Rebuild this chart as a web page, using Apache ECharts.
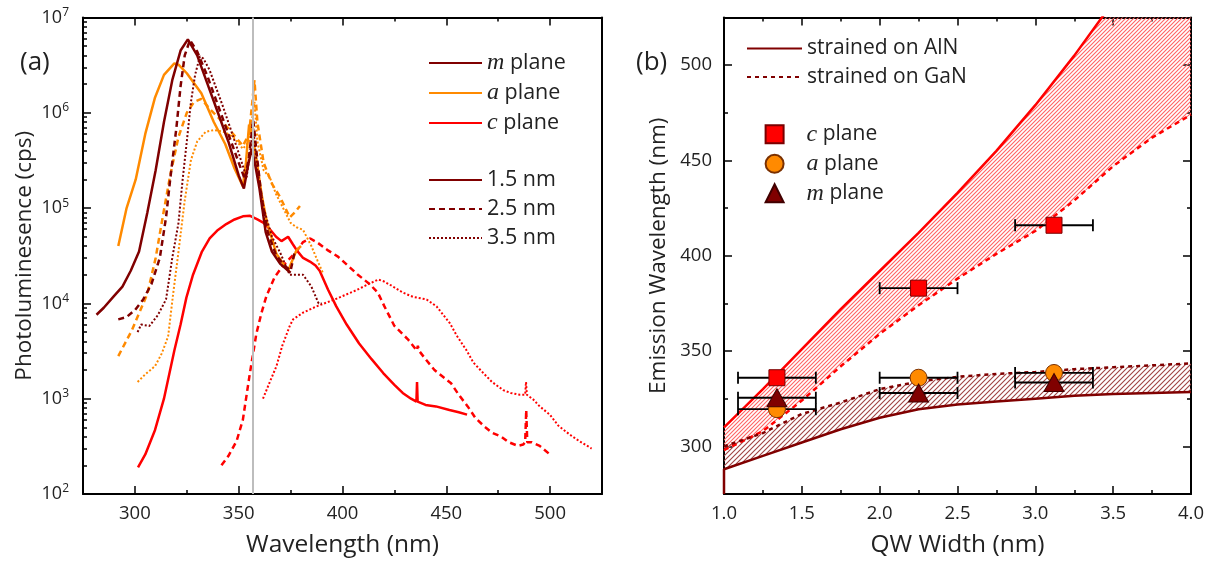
<!DOCTYPE html>
<html><head><meta charset="utf-8">
<script src="https://cdn.jsdelivr.net/npm/echarts@6/dist/echarts.min.js"></script>
<style>html,body{margin:0;padding:0;background:#fff}#c{width:1212px;height:563px}</style>
</head><body><div id="c"></div>
<script>
// ---------------- Panel (a): PL spectra [wavelength nm, counts/s] ----------------
const mPlane15 = [[281.5,7.6e3],[285,9e3],[290,1.2e4],[294,1.5e4],[298,2.2e4],[302,3.5e4],[306,9e4],[310,2.5e5],[314,8e5],[318,2.2e6],[322,4.5e6],[325.5,5.9e6],[330,4e6],[335,2e6],[340,1e6],[345,5e5],[350,2.2e5],[352.5,1.6e5],[354.5,2.8e5],[356.3,4.2e5],[358,2.8e5],[360,1.6e5],[363,5.6e4],[366,3.5e4],[370,2.6e4],[375,2.1e4]];
const mPlane25 = [[292,6.8e3],[296,7.2e3],[300,8.5e3],[304,1.1e4],[308,1.6e4],[312,3e4],[315,8e4],[317,2e5],[320,7e5],[322,1.9e6],[324,4e6],[326.5,5.8e6],[330,4.4e6],[335,2.4e6],[340,1.2e6],[345,6e5],[350,3e5],[353,2e5],[355,3.5e5],[357,8.5e5],[358.5,4e5],[361,1.3e5],[364,5.6e4],[368,3.2e4],[372,2.5e4],[375,2.2e4],[377,3.5e4]];
const mPlane35 = [[301.3,5e3],[303,6e3],[307,5.8e3],[311,7.5e3],[315,1.1e4],[318,3e4],[321,7e4],[323,2e5],[325,5e5],[327,1.3e6],[329,2.5e6],[331.3,3.9e6],[333,3.7e6],[336,2.8e6],[342.5,1.15e6],[349,4.4e5],[353.8,2.1e5],[357,7e5],[359,2.5e5],[362,1e5],[366,5e4],[370,3.4e4],[374.5,2e4],[378,2e4],[381,2e4],[385,1.5e4],[388.5,1e4],[390,1e4]];
const aPlane15 = [[292,4e4],[296,1e5],[300.4,2e5],[305,6e5],[309.7,1.45e6],[314,2.5e6],[319,3.3e6],[321,3.2e6],[325,2.6e6],[332,1.6e6],[338,8e5],[343.5,4.7e5],[348,2.6e5],[352,1.7e5],[353.5,3e5],[355,7.5e5],[356.5,6e5],[358.6,3.2e5],[361,1.4e5],[363.4,7.4e4],[368.2,3.3e4],[373.8,2.2e4],[377.8,3.6e4],[380,4e4]];
const aPlane25 = [[292,2.8e3],[298.5,5.2e3],[306,1.26e4],[310,3e4],[313.5,8.3e4],[317,2.2e5],[321,5.6e5],[325,1e6],[328.5,1.3e6],[332,1.4e6],[336,1.1e6],[340,9e5],[346,6.5e5],[352,4.5e5],[355,6e5],[357.6,2.2e6],[359,8e5],[362,3e5],[366,1.8e5],[370,1.3e5],[374.6,8e4],[377,9e4],[379.5,1.05e5]];
const aPlane35 = [[301.3,1.5e3],[305,1.8e3],[309.7,2.2e3],[313,3e3],[316,4.5e3],[318.5,1.3e4],[321,3.5e4],[324,1.2e5],[327,3.2e5],[330,5e5],[334,6.3e5],[338,6.6e5],[343,6.3e5],[347.3,5.6e5],[352,4.2e5],[355,5e5],[357.6,1.3e6],[359,5e5],[362,2.5e5],[365,2.1e5],[368,1.4e5],[371.4,1e5],[375,7e4],[377.8,6.3e4],[381,5.9e4],[385,4e4],[388,2.8e4],[390.5,2.1e4]];
const cPlane15 = [[301.5,1.9e2],[305,2.6e2],[309.7,4.7e2],[314,1e3],[319,3.2e3],[322,6e3],[324.8,1.15e4],[328,2e4],[332.3,3.5e4],[336,4.8e4],[340,5.9e4],[344,6.8e4],[348,7.6e4],[352,8.2e4],[355.5,8.3e4],[359,7.6e4],[362,7e4],[365,6e4],[368,5e4],[370.6,4.5e4],[373.8,5e4],[376,4.2e4],[378,3.6e4],[381,3e4],[384.3,2.75e4],[387,2.5e4],[389,2.2e4],[393,1.4e4],[397,9.3e3],[402,6e3],[408,3.8e3],[414,2.6e3],[419.6,1.86e3],[425,1.4e3],[429,1.15e3],[433,1e3],[435.6,9.3e2],[435.9,1.5e3],[436.2,9.3e2],[440,8.6e2],[445,8.3e2],[451.5,7.6e2],[456,7.2e2],[460,6.8e2]];
const cPlane25 = [[341.7,2e2],[345,2.5e2],[349,3.6e2],[352,6e2],[355.3,1.8e3],[358.5,4.8e3],[361,8e3],[363.4,1.2e4],[367.4,1.9e4],[371.4,2.5e4],[377.8,3.5e4],[381,4.4e4],[384.5,4.8e4],[388.2,4.3e4],[393,3.6e4],[397.8,3.1e4],[402.5,2.5e4],[407.4,2e4],[413,1.6e4],[417,1.3e4],[420.2,9.3e3],[425,5.8e3],[431.5,4.2e3],[435.8,3.2e3],[436.3,3.6e3],[436.8,3.2e3],[440,2.6e3],[444.3,2e3],[452.3,1.45e3],[456,1.1e3],[460.3,8.3e2],[464,6.3e2],[468.4,5.1e2],[472,4.4e2],[476.4,4e2],[480,3.5e2],[484.5,3.2e2],[487,3.3e2],[488,3.5e2],[488.5,7.6e2],[489,3.5e2],[491,3.5e2],[495,3.2e2],[499.9,2.6e2]];
const cPlane35 = [[361.7,1e3],[365,1.5e3],[368.2,2.2e3],[371,3.6e3],[374.6,5.8e3],[376.2,6.8e3],[381,8e3],[387.5,9.3e3],[397.1,1.12e4],[406.8,1.38e4],[413.2,1.62e4],[417.2,1.78e4],[420,1.7e4],[424.4,1.5e4],[429,1.3e4],[434,1.17e4],[440.5,1.1e4],[445.3,9.3e3],[451.7,6.2e3],[455,4.6e3],[459.8,3.2e3],[463,2.4e3],[467.8,1.86e3],[472,1.5e3],[477.4,1.23e3],[481,1.15e3],[485.5,1.1e3],[488,1.1e3],[488.4,1.5e3],[488.8,1.1e3],[491.9,9.8e2],[495,8.3e2],[499.9,6.8e2],[504,5.2e2],[509.5,4.2e2],[514,3.6e2],[520,3e2]];
const grayLineX = [357];

// axis ticks panel (a)
const aXLabels = [300, 350, 400, 450, 500];
const aXMinor = [325, 375, 425, 475];
const aYExponents = [2, 3, 4, 5, 6, 7];

// ---------------- Panel (b): emission wavelength vs QW width ----------------
const cAlN = [[1.0,310],[1.1,318],[1.25,330],[1.5,351],[1.75,372],[2.0,392],[2.25,412],[2.5,433],[2.75,455],[3.0,479],[3.25,505],[3.41,523],[3.5,533],[3.75,562],[4.0,592]];
const cGaN = [[1.0,298],[1.25,308],[1.5,324],[1.75,342],[2.0,359],[2.25,374],[2.5,388],[2.75,401],[3.0,413],[3.25,429],[3.5,447],[3.75,462],[4.0,474]];
const maAlN = [[1.0,275],[1.0,288],[1.25,295],[1.5,302],[1.75,309],[2.0,315],[2.25,319.5],[2.5,322],[2.75,323.5],[3.0,325],[3.25,326.5],[3.5,327.5],[3.75,328],[4.0,328.5]];
const maGaN = [[1.0,300],[1.25,307],[1.5,317],[1.75,323],[2.0,330],[2.25,334],[2.5,336.5],[2.75,338],[3.0,339],[3.25,340.5],[3.5,341.5],[3.75,342.5],[4.0,343.5]];
// [width, wavelength, width error]
const cPts = [[1.34,336,0.25],[2.25,383,0.25],[3.12,416,0.25]];
const aPts = [[1.34,319.5,0.25],[2.25,336,0.25],[3.12,338.5,0.25]];
const mPts = [[1.34,325.5,0.25],[2.25,328,0.25],[3.12,333.5,0.25]];
const bYLabels = [300, 350, 400, 450, 500];
const bYMinor = [325, 375, 425, 475];

// ---------------- styling ----------------
const FONT = "'Open Sans', 'Liberation Sans', sans-serif";
const SERIF = "'Liberation Serif', 'DejaVu Serif', serif";
const DARK = '#800000', ORANGE = '#FF8A00', RED = '#FF0000', TXT = '#222';

const aYMinor = [];
for (let k = 2; k < 7; k++) for (let m = 2; m <= 9; m++) aYMinor.push(k + Math.log10(m));

function hatch(color, s, w) {
  const c = document.createElement('canvas'); c.width = s; c.height = s;
  const g = c.getContext('2d');
  g.clearRect(0, 0, s, s);
  g.strokeStyle = color; g.lineWidth = w; g.lineCap = 'square';
  g.beginPath();
  g.moveTo(0, s); g.lineTo(s, 0);
  g.moveTo(-1, 1); g.lineTo(1, -1);
  g.moveTo(s - 1, s + 1); g.lineTo(s + 1, s - 1);
  g.stroke();
  return c;
}
const redHatch = { type: 'pattern', image: hatch('#ff6464', 4, 1.1), repeat: 'repeat' };
const darkHatch = { type: 'pattern', image: hatch('#a04444', 5, 1.1), repeat: 'repeat' };

const italicMap = {
  'm plane': 'm', 'a plane': 'a', 'c plane': 'c',
  'c plane (b)': 'c', 'a plane (b)': 'a', 'm plane (b)': 'm'
};
function legendFmt(name) {
  if (italicMap[name]) return '{i|' + italicMap[name] + '} plane';
  return name;
}
function legendFmtB(name) { return '{sp|}' + legendFmt(name); }

const axisBlack = { show: true, lineStyle: { color: '#000', width: 2 } };
const noLine = { show: false };
function tickStyle(len, vals) {
  return { show: true, inside: true, length: len, customValues: vals, lineStyle: { color: '#000', width: 1.5 } };
}
const noLabel = { show: false };
const noSplit = { show: false };
const tickLabelStyle = { color: TXT, fontSize: 18.5, fontFamily: FONT };
const nameStyleX = { fontSize: 24.5, color: TXT, fontFamily: FONT };
const nameStyleY = { fontSize: 22.5, color: TXT, fontFamily: FONT };

function lineSeries(name, data, color, type, width, xi, yi, extra) {
  return Object.assign({
    type: 'line', name, data, xAxisIndex: xi, yAxisIndex: yi,
    symbol: 'none', smooth: false, animation: false,
    lineStyle: { color, type, width }, itemStyle: { color }
  }, extra || {});
}

function errorBars(name, pts) {
  return {
    type: 'custom', name, xAxisIndex: 4, yAxisIndex: 4, data: pts, z: 4, animation: false,
    encode: { x: 0, y: 1 },
    renderItem(params, api) {
      const x = api.value(0), y = api.value(1), e = api.value(2);
      const p1 = api.coord([x - e, y]), p2 = api.coord([x + e, y]);
      const h = 6;
      const st = { stroke: '#000', lineWidth: 1.8 };
      return { type: 'group', children: [
        { type: 'line', shape: { x1: p1[0], y1: p1[1], x2: p2[0], y2: p2[1] }, style: st },
        { type: 'line', shape: { x1: p1[0], y1: p1[1] - h, x2: p1[0], y2: p1[1] + h }, style: st },
        { type: 'line', shape: { x1: p2[0], y1: p2[1] - h, x2: p2[0], y2: p2[1] + h }, style: st }
      ] };
    }
  };
}

function band(name, upper, lower, fill) {
  return {
    type: 'custom', name, xAxisIndex: 4, yAxisIndex: 4, data: upper, z: 1, clip: true, animation: false,
    encode: { x: 0, y: 1 }, silent: true,
    renderItem(params, api) {
      if (params.dataIndex !== 0) return null;
      const pts = upper.map(p => api.coord(p)).concat(lower.slice().reverse().map(p => api.coord(p)));
      return { type: 'polygon', shape: { points: pts }, style: { fill: fill, stroke: null } };
    }
  };
}

const lineLegendBase = { orient: 'vertical', selectedMode: false, padding: 0, itemStyle: { opacity: 0 } };

const chart = echarts.init(document.getElementById('c'), null, { renderer: 'canvas' });
const option = {
  animation: false,
  textStyle: { fontFamily: FONT },
  title: [
    { text: '(a)', left: 20, top: 50, padding: 0, textStyle: { fontSize: 26, fontWeight: 'normal', color: TXT, fontFamily: FONT } },
    { text: '(b)', left: 636, top: 50, padding: 0, textStyle: { fontSize: 26, fontWeight: 'normal', color: TXT, fontFamily: FONT } }
  ],
  grid: [
    { left: 83, top: 17.5, width: 519, height: 476.5 },
    { left: 724, top: 17.5, width: 467, height: 476.5 }
  ],
  legend: [
    Object.assign({}, lineLegendBase, { data: ['m plane', 'a plane', 'c plane'], left: 428, top: 51,
      itemWidth: 53, itemHeight: 14, itemGap: 6, formatter: legendFmt,
      textStyle: { fontSize: 21.5, lineHeight: 24, color: TXT, fontFamily: FONT,
        rich: { i: { fontFamily: SERIF, fontStyle: 'italic', fontSize: 24, color: TXT } } } }),
    Object.assign({}, lineLegendBase, { data: ['1.5 nm', '2.5 nm', '3.5 nm'], left: 428, top: 168,
      itemWidth: 53, itemHeight: 14, itemGap: 5,
      textStyle: { fontSize: 21.5, lineHeight: 24, color: TXT, fontFamily: FONT } }),
    Object.assign({}, lineLegendBase, { data: ['strained on AlN', 'strained on GaN'], left: 746, top: 36.5,
      itemWidth: 55, itemHeight: 14, itemGap: 4.6,
      textStyle: { fontSize: 21, lineHeight: 24, color: TXT, fontFamily: FONT } }),
    { data: ['c plane (b)', 'a plane (b)', 'm plane (b)'], orient: 'vertical', left: 764.6, top: 122.3, padding: 0,
      itemWidth: 18, itemHeight: 18, itemGap: 5.5, formatter: legendFmtB, selectedMode: false,
      textStyle: { fontSize: 21, lineHeight: 24, color: TXT, fontFamily: FONT,
        rich: { sp: { width: 18 }, i: { fontFamily: SERIF, fontStyle: 'italic', fontSize: 24, color: TXT } } } }
  ],
  xAxis: [
    { gridIndex: 0, type: 'value', min: 275, max: 525, position: 'bottom',
      axisLine: axisBlack, axisTick: tickStyle(8, aXLabels), splitLine: noSplit,
      axisLabel: Object.assign({ customValues: aXLabels, margin: 10 }, tickLabelStyle),
      name: 'Wavelength (nm)', nameLocation: 'middle', nameGap: 39, nameTextStyle: nameStyleX },
    { gridIndex: 0, type: 'value', min: 275, max: 525, position: 'bottom',
      axisLine: noLine, axisTick: tickStyle(4, aXMinor), axisLabel: noLabel, splitLine: noSplit },
    { gridIndex: 0, type: 'value', min: 275, max: 525, position: 'top',
      axisLine: axisBlack, axisTick: tickStyle(8, aXLabels), axisLabel: noLabel, splitLine: noSplit },
    { gridIndex: 0, type: 'value', min: 275, max: 525, position: 'top',
      axisLine: noLine, axisTick: tickStyle(4, aXMinor), axisLabel: noLabel, splitLine: noSplit },
    { gridIndex: 1, type: 'value', min: 1, max: 4, interval: 0.5, position: 'bottom',
      axisLine: axisBlack, axisTick: { show: true, inside: true, length: 8, lineStyle: { color: '#000', width: 1.5 } },
      minorTick: { show: true, splitNumber: 2, length: 4, lineStyle: { color: '#000', width: 1.5 } },
      splitLine: noSplit, minorSplitLine: noSplit,
      axisLabel: Object.assign({ margin: 10, formatter: v => v.toFixed(1) }, tickLabelStyle),
      name: 'QW Width (nm)', nameLocation: 'middle', nameGap: 39, nameTextStyle: nameStyleX },
    { gridIndex: 1, type: 'value', min: 1, max: 4, interval: 0.5, position: 'top',
      axisLine: axisBlack, axisTick: { show: true, inside: true, length: 8, lineStyle: { color: '#000', width: 1.5 } },
      minorTick: { show: true, splitNumber: 2, length: 4, lineStyle: { color: '#000', width: 1.5 } },
      splitLine: noSplit, axisLabel: noLabel }
  ],
  yAxis: [
    { gridIndex: 0, type: 'log', logBase: 10, min: 100, max: 1e7, position: 'left',
      axisLine: axisBlack, axisTick: { show: false }, axisLabel: noLabel, splitLine: noSplit, minorSplitLine: noSplit },
    { gridIndex: 0, type: 'value', min: 2, max: 7, position: 'left',
      axisLine: noLine, axisTick: tickStyle(8, aYExponents), splitLine: noSplit,
      axisLabel: { customValues: aYExponents, margin: 14, color: TXT, fontSize: 18, fontFamily: FONT,
        formatter: v => '10{sup|' + v + '}',
        rich: { sup: { fontSize: 12, color: TXT, fontFamily: FONT, padding: [0, 0, 10, 0] } } },
      name: 'Photoluminesence (cps)', nameLocation: 'middle', nameGap: 47, nameTextStyle: nameStyleY },
    { gridIndex: 0, type: 'value', min: 2, max: 7, position: 'left',
      axisLine: noLine, axisTick: tickStyle(4, aYMinor), axisLabel: noLabel, splitLine: noSplit },
    { gridIndex: 0, type: 'log', logBase: 10, min: 100, max: 1e7, position: 'right',
      axisLine: axisBlack, axisTick: { show: false }, axisLabel: noLabel, splitLine: noSplit },
    { gridIndex: 1, type: 'value', min: 275, max: 525, position: 'left',
      axisLine: axisBlack, axisTick: tickStyle(8, bYLabels), splitLine: noSplit,
      axisLabel: Object.assign({ customValues: bYLabels, margin: 12 }, tickLabelStyle),
      name: 'Emission Wavelength (nm)', nameLocation: 'middle', nameGap: 54, nameTextStyle: nameStyleY },
    { gridIndex: 1, type: 'value', min: 275, max: 525, position: 'left',
      axisLine: noLine, axisTick: tickStyle(4, bYMinor), axisLabel: noLabel, splitLine: noSplit },
    { gridIndex: 1, type: 'value', min: 275, max: 525, position: 'right',
      axisLine: axisBlack, axisTick: tickStyle(8, bYLabels), axisLabel: noLabel, splitLine: noSplit },
    { gridIndex: 1, type: 'value', min: 275, max: 525, position: 'right',
      axisLine: noLine, axisTick: tickStyle(4, bYMinor), axisLabel: noLabel, splitLine: noSplit }
  ],
  series: [
    lineSeries('m plane', [], DARK, 'solid', 2.5, 0, 0),
    lineSeries('c plane 3.5', cPlane35, RED, [2, 2], 2, 0, 0),
    lineSeries('c plane 2.5', cPlane25, RED, [6, 4], 2.5, 0, 0),
    lineSeries('c plane', cPlane15, RED, 'solid', 2.5, 0, 0, {
      markLine: { silent: true, symbol: 'none', animation: false, label: { show: false },
        lineStyle: { color: '#bdbdbd', type: 'solid', width: 2 },
        data: grayLineX.map(v => ({ xAxis: v })) } }),
    lineSeries('a plane 3.5', aPlane35, ORANGE, [2, 2], 2, 0, 0),
    lineSeries('a plane 2.5', aPlane25, ORANGE, [6, 4], 2.5, 0, 0),
    lineSeries('a plane', aPlane15, ORANGE, 'solid', 2.5, 0, 0),
    lineSeries('3.5 nm', mPlane35, DARK, [2, 2], 2, 0, 0),
    lineSeries('2.5 nm', mPlane25, DARK, [6, 4], 2.5, 0, 0),
    lineSeries('1.5 nm', mPlane15, DARK, 'solid', 2.5, 0, 0),

    band('bandC', cAlN, cGaN, redHatch),
    band('bandM', maGaN, maAlN, darkHatch),
    lineSeries('c AlN', cAlN, RED, 'solid', 2.5, 4, 4, { z: 3 }),
    lineSeries('c GaN', cGaN, RED, [5, 4], 2.5, 4, 4, { z: 3 }),
    lineSeries('strained on AlN', maAlN, DARK, 'solid', 2.5, 4, 4, { z: 3 }),
    lineSeries('strained on GaN', maGaN, DARK, [4, 4], 2.5, 4, 4, { z: 3 }),
    errorBars('errC', cPts), errorBars('errA', aPts), errorBars('errM', mPts),
    { type: 'scatter', name: 'c plane (b)', data: cPts, xAxisIndex: 4, yAxisIndex: 4, z: 6,
      symbol: 'rect', symbolSize: 16, encode: { x: 0, y: 1 },
      itemStyle: { color: RED, borderColor: '#7a0000', borderWidth: 1, opacity: 1 } },
    { type: 'scatter', name: 'a plane (b)', data: aPts, xAxisIndex: 4, yAxisIndex: 4, z: 5,
      symbol: 'circle', symbolSize: 17, encode: { x: 0, y: 1 },
      itemStyle: { color: ORANGE, borderColor: '#7a3000', borderWidth: 1, opacity: 1 } },
    { type: 'scatter', name: 'm plane (b)', data: mPts, xAxisIndex: 4, yAxisIndex: 4, z: 7,
      symbol: 'triangle', symbolSize: [20, 18], encode: { x: 0, y: 1 },
      itemStyle: { color: DARK, borderColor: '#400000', borderWidth: 1, opacity: 1 } }
  ]
};
chart.setOption(option);
</script></body></html>
